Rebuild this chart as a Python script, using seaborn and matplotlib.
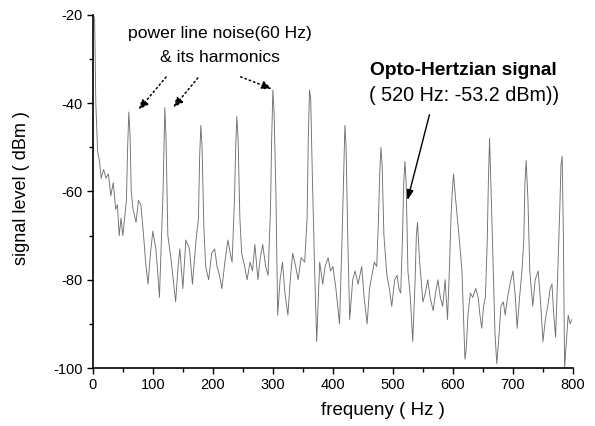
import matplotlib
matplotlib.use('Agg')
import matplotlib.pyplot as plt
import seaborn as sns
import pandas as pd
from matplotlib.ticker import MultipleLocator

# spectrum (Hz, dBm)
freq_hz = [1, 3, 5, 8, 11, 14, 18, 22, 26, 30, 34, 38, 41, 44, 47, 50, 53, 56, 58, 60,
           62, 64, 67, 72, 76, 80, 84, 88, 92, 96, 100, 105, 108, 111, 114, 117, 120, 122, 125, 130,
           134, 138, 142, 145, 150, 155, 161, 166, 172, 176, 178, 180, 182, 185, 188, 193, 198, 203, 207, 211,
           215, 220, 225, 229, 232, 236, 238, 240, 242, 245, 248, 253, 257, 262, 266, 270, 275, 279, 283, 288,
           292, 296, 298, 300, 302, 305, 308, 312, 316, 320, 325, 329, 333, 338, 342, 347, 353, 357, 359, 361,
           363, 366, 370, 373, 378, 383, 387, 392, 396, 400, 405, 411, 415, 418, 420, 422, 425, 428, 433, 437,
           442, 448, 452, 457, 461, 465, 469, 473, 476, 478, 480, 482, 485, 490, 494, 498, 503, 507, 510, 513,
           516, 518, 520, 522, 525, 529, 533, 537, 539, 541, 544, 550, 554, 558, 562, 567, 571, 575, 579, 583,
           587, 591, 594, 597, 599, 601, 604, 608, 612, 615, 618, 620, 622, 625, 629, 633, 638, 642, 645, 648,
           651, 654, 657, 659, 661, 664, 667, 670, 673, 676, 680, 684, 687, 691, 695, 700, 704, 707, 711, 715,
           718, 720, 722, 725, 728, 733, 737, 742, 746, 750, 754, 758, 762, 765, 768, 771, 775, 778, 780, 782,
           784, 786, 789, 792, 795, 798]
level_dbm = [-20, -21, -40, -51, -53, -57, -55, -57, -56, -61, -58, -64, -63, -70, -66, -70, -66, -62, -50, -42,
             -47, -60, -64, -67, -62, -63, -69, -76, -81, -74, -69, -73, -78, -84, -72, -60, -41, -48, -70, -75,
             -80, -85, -77, -73, -82, -71, -73, -81, -71, -66, -52, -45, -50, -68, -77, -80, -74, -73, -77, -79,
             -82, -76, -71, -74, -76, -62, -50, -43, -48, -66, -74, -77, -80, -76, -78, -72, -80, -75, -72, -77,
             -79, -64, -48, -37, -42, -60, -88, -80, -76, -83, -88, -80, -74, -77, -80, -75, -76, -66, -48, -37,
             -39, -58, -80, -94, -76, -81, -77, -75, -78, -77, -82, -90, -72, -56, -45, -50, -72, -89, -80, -78,
             -81, -77, -84, -90, -82, -79, -76, -77, -66, -56, -50, -54, -70, -79, -82, -86, -80, -79, -82, -83,
             -70, -58, -53.2, -58, -78, -84, -94, -80, -70, -67, -75, -85, -83, -80, -84, -87, -83, -80, -84, -86,
             -80, -89, -78, -65, -60, -56, -61, -67, -73, -78, -90, -98, -96, -88, -83, -84, -82, -84, -88, -91,
             -86, -84, -72, -58, -48, -62, -77, -92, -99, -94, -86, -85, -88, -84, -81, -78, -84, -91, -84, -78,
             -71, -58, -53, -62, -78, -86, -80, -78, -85, -94, -89, -86, -82, -81, -88, -93, -77, -64, -54, -52,
             -70, -100, -94, -88, -90, -89]

df = pd.DataFrame({'freq': freq_hz, 'level': level_dbm})

sns.set_style('white')
plt.rcParams['font.family'] = ['Liberation Sans', 'DejaVu Sans']
plt.rcParams['axes.unicode_minus'] = False
plt.rcParams['text.color'] = 'black'
plt.rcParams['axes.labelcolor'] = 'black'

fig = plt.figure(figsize=(5.95, 4.26), dpi=100)
ax = fig.add_axes([0.156, 0.136, 0.807, 0.829])

sns.lineplot(data=df, x='freq', y='level', estimator=None, color='#707070', lw=0.65, ax=ax)

ax.set_xlim(0, 800)
ax.set_ylim(-100, -20)
ax.xaxis.set_major_locator(MultipleLocator(100))
ax.xaxis.set_minor_locator(MultipleLocator(50))
ax.yaxis.set_major_locator(MultipleLocator(20))
ax.yaxis.set_minor_locator(MultipleLocator(10))
ax.tick_params(which='both', direction='out', bottom=True, left=True, labelsize=10.5, width=1,
               colors='black', labelcolor='black')
ax.tick_params(which='major', length=4)
ax.tick_params(which='minor', length=3)

for side in ['top', 'right']:
    ax.spines[side].set_visible(False)
for side in ['left', 'bottom']:
    ax.spines[side].set_color('black')
    ax.spines[side].set_linewidth(1.2)

# axis labels sit where the scan has them (x label is off-centre to the right)
ax.set_xlabel('frequeny ( Hz )', fontsize=13.5)
ax.set_ylabel('signal level ( dBm )', fontsize=13)
ax.xaxis.set_label_coords(0.604, -0.119)
ax.yaxis.set_label_coords(-0.148, 0.51)
ax.xaxis.label.set_va('center')
ax.yaxis.label.set_va('center')

# annotations
ax.text(211, -24.1, 'power line noise(60 Hz)', ha='center', va='center', fontsize=12.6)
ax.text(211, -29.6, '& its harmonics', ha='center', va='center', fontsize=12.6)
ax.text(461, -32.5, 'Opto-Hertzian signal', ha='left', va='center', fontsize=13.8, fontweight='bold')
ax.text(460, -38.2, '( 520 Hz: -53.2 dBm))', ha='left', va='center', fontsize=14.2)

dotted = dict(arrowstyle='-|>,head_length=0.6,head_width=0.25', linestyle=(0, (1, 2)), color='black', lw=1.1)
ax.annotate('', xy=(73, -42), xytext=(125, -33.6), arrowprops=dotted)
ax.annotate('', xy=(131, -41.5), xytext=(178, -33.8), arrowprops=dotted)
ax.annotate('', xy=(303, -37), xytext=(242, -33.8), arrowprops=dotted)
ax.annotate('', xy=(523, -62.6), xytext=(562, -42),
            arrowprops=dict(arrowstyle='-|>,head_length=0.6,head_width=0.2', color='black', lw=1))

fig.savefig('out.png', dpi=100)
